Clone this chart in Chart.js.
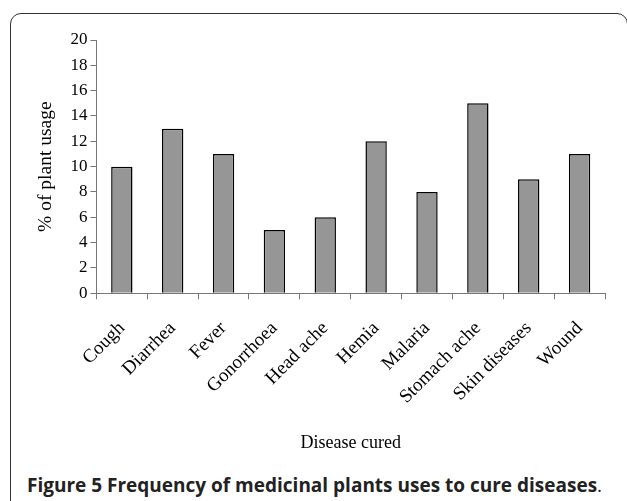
<!DOCTYPE html>
<html>
<head>
<meta charset="utf-8">
<script src="https://cdn.jsdelivr.net/npm/chart.js@4/dist/chart.umd.min.js"></script>
<style>
  body { margin: 0; background: #fff; width: 627px; height: 501px; overflow: hidden; position: relative; }
  .frame { position: absolute; left: 10px; top: 13px; width: 616px; height: 540px; border: 1.5px solid #333; border-radius: 11px; }
  .wrap { position: absolute; left: 0; top: 0; width: 627px; height: 460px; }
  .caption { position: absolute; left: 27px; top: 472px; font-family: "Open Sans", sans-serif; font-weight: bold; font-size: 19px; line-height: 26px; color: #222; white-space: nowrap; }
  .caption span { font-weight: normal; }
</style>
</head>
<body>
<div class="frame"></div>
<div class="wrap"><canvas id="chart"></canvas></div>
<div class="caption">Figure 5 Frequency of medicinal plants uses to cure diseases<span>.</span></div>
<script>
const diseases = ["Cough", "Diarrhea", "Fever", "Gonorrhoea", "Head ache", "Hemia", "Malaria", "Stomach ache", "Skin diseases", "Wound"];
const usage = [10, 13, 11, 5, 6, 12, 8, 15, 9, 11];

const serif = "'Liberation Serif', 'Times New Roman', serif";

new Chart(document.getElementById("chart"), {
  type: "bar",
  data: {
    labels: diseases,
    datasets: [{
      label: "% of plant usage",
      data: usage,
      backgroundColor: "#969696",
      borderColor: "#000",
      borderWidth: 1.5,
      categoryPercentage: 1,
      barPercentage: 0.42
    }]
  },
  options: {
    responsive: true,
    maintainAspectRatio: false,
    animation: false,
    layout: { padding: { left: 30, top: 40, right: 22, bottom: 2 } },
    plugins: {
      legend: { display: false },
      tooltip: { enabled: false }
    },
    scales: {
      x: {
        grid: { drawOnChartArea: false, drawTicks: true, tickLength: 6, color: "#777" },
        border: { color: "#777", width: 1 },
        ticks: { autoSkip: false, color: "#000", font: { family: serif, size: 19 }, minRotation: 45, maxRotation: 45, padding: 18 },
        title: { display: true, text: "Disease cured", color: "#000", font: { family: serif, size: 18 }, padding: { top: 6 } }
      },
      y: {
        min: 0,
        max: 20,
        ticks: { stepSize: 2, autoSkip: false, color: "#000", font: { family: serif, size: 17 }, padding: 3 },
        grid: { drawOnChartArea: false, drawTicks: true, tickLength: 6, color: "#777" },
        border: { color: "#777", width: 1 },
        title: { display: true, text: "% of plant usage", color: "#000", font: { family: serif, size: 19.5 }, padding: { bottom: 10 } }
      }
    }
  }
});
</script>
</body>
</html>
